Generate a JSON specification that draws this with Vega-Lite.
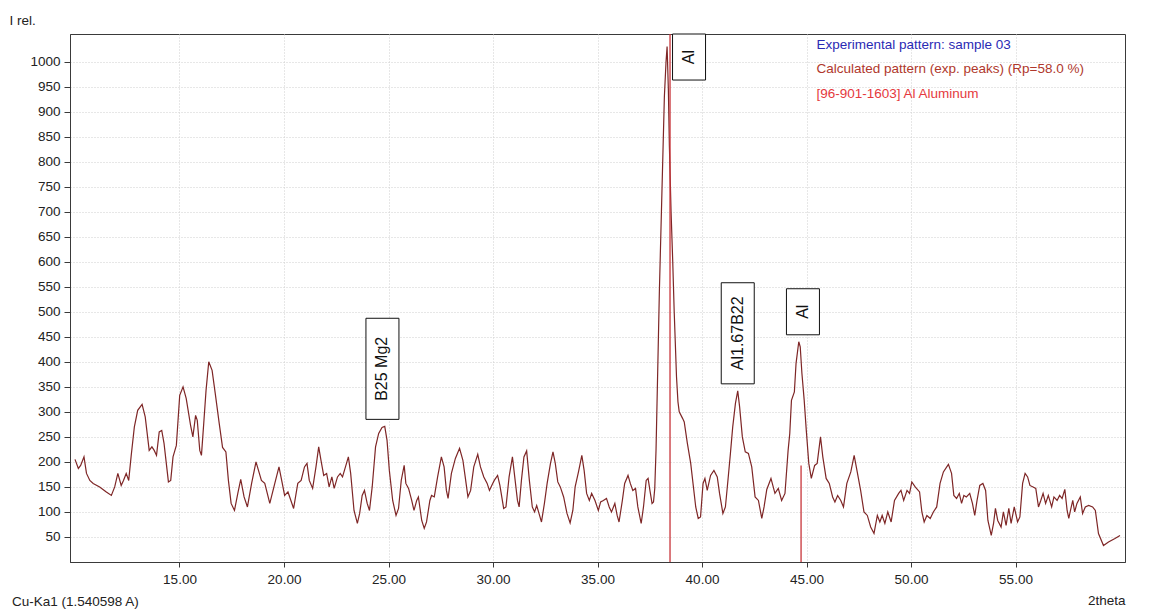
{
  "$schema": "https://vega.github.io/schema/vega-lite/v6.json",
  "width": 1055,
  "height": 528,
  "autosize": "none",
  "padding": {"left": 70, "top": 34, "right": 29, "bottom": 51},
  "background": "white",
  "title": {
    "text": "Cu-Ka1 (1.540598 A)",
    "orient": "bottom",
    "anchor": "start",
    "frame": "group",
    "dx": -58,
    "dy": -12,
    "offset": 0,
    "fontSize": 13.5,
    "fontWeight": "normal",
    "font": "Liberation Sans",
    "color": "#222222"
  },
  "config": {
    "view": {"stroke": "#3a3a3a", "strokeWidth": 1},
    "font": "Liberation Sans",
    "axis": {
      "domainColor": "#3a3a3a",
      "tickColor": "#3a3a3a",
      "labelColor": "#222222",
      "labelFontSize": 13.5,
      "labelFont": "Liberation Sans",
      "labelOverlap": false,
      "gridColor": "#cfcfcf",
      "gridDash": [1, 2],
      "gridWidth": 1,
      "titleFont": "Liberation Sans",
      "titleFontSize": 13.5,
      "titleFontWeight": "normal",
      "titleColor": "#222222"
    }
  },
  "datasets": {
    "pattern": [
      {"twotheta": 10.0, "intensity": 205}, {"twotheta": 10.16, "intensity": 187}, {"twotheta": 10.27, "intensity": 193},
      {"twotheta": 10.43, "intensity": 210}, {"twotheta": 10.55, "intensity": 177}, {"twotheta": 10.71, "intensity": 163},
      {"twotheta": 10.87, "intensity": 157}, {"twotheta": 11.18, "intensity": 150}, {"twotheta": 11.5, "intensity": 140},
      {"twotheta": 11.74, "intensity": 133}, {"twotheta": 11.9, "intensity": 150}, {"twotheta": 12.05, "intensity": 177},
      {"twotheta": 12.21, "intensity": 153}, {"twotheta": 12.32, "intensity": 163}, {"twotheta": 12.45, "intensity": 177},
      {"twotheta": 12.57, "intensity": 163}, {"twotheta": 12.69, "intensity": 213}, {"twotheta": 12.84, "intensity": 270},
      {"twotheta": 13.0, "intensity": 303}, {"twotheta": 13.21, "intensity": 315}, {"twotheta": 13.36, "intensity": 290},
      {"twotheta": 13.55, "intensity": 223}, {"twotheta": 13.68, "intensity": 230}, {"twotheta": 13.79, "intensity": 223},
      {"twotheta": 13.9, "intensity": 213}, {"twotheta": 14.03, "intensity": 260}, {"twotheta": 14.15, "intensity": 263},
      {"twotheta": 14.26, "intensity": 237}, {"twotheta": 14.47, "intensity": 160}, {"twotheta": 14.58, "intensity": 163},
      {"twotheta": 14.69, "intensity": 210}, {"twotheta": 14.85, "intensity": 233}, {"twotheta": 15.01, "intensity": 333},
      {"twotheta": 15.17, "intensity": 350}, {"twotheta": 15.32, "intensity": 327}, {"twotheta": 15.53, "intensity": 273},
      {"twotheta": 15.64, "intensity": 250}, {"twotheta": 15.77, "intensity": 293}, {"twotheta": 15.85, "intensity": 283},
      {"twotheta": 15.97, "intensity": 223}, {"twotheta": 16.05, "intensity": 213}, {"twotheta": 16.16, "intensity": 277},
      {"twotheta": 16.27, "intensity": 343}, {"twotheta": 16.4, "intensity": 400}, {"twotheta": 16.56, "intensity": 383},
      {"twotheta": 16.71, "intensity": 337}, {"twotheta": 16.9, "intensity": 277}, {"twotheta": 17.06, "intensity": 229},
      {"twotheta": 17.22, "intensity": 220}, {"twotheta": 17.34, "intensity": 163}, {"twotheta": 17.47, "intensity": 117},
      {"twotheta": 17.63, "intensity": 103}, {"twotheta": 17.79, "intensity": 137}, {"twotheta": 17.93, "intensity": 165},
      {"twotheta": 18.09, "intensity": 130}, {"twotheta": 18.25, "intensity": 110}, {"twotheta": 18.45, "intensity": 157},
      {"twotheta": 18.66, "intensity": 200}, {"twotheta": 18.92, "intensity": 163}, {"twotheta": 19.08, "intensity": 157},
      {"twotheta": 19.32, "intensity": 117}, {"twotheta": 19.56, "intensity": 157}, {"twotheta": 19.76, "intensity": 190},
      {"twotheta": 19.87, "intensity": 167}, {"twotheta": 20.03, "intensity": 133}, {"twotheta": 20.19, "intensity": 140},
      {"twotheta": 20.46, "intensity": 107}, {"twotheta": 20.66, "intensity": 157}, {"twotheta": 20.82, "intensity": 163},
      {"twotheta": 20.98, "intensity": 190}, {"twotheta": 21.1, "intensity": 197}, {"twotheta": 21.21, "intensity": 163},
      {"twotheta": 21.37, "intensity": 147}, {"twotheta": 21.53, "intensity": 190}, {"twotheta": 21.66, "intensity": 230},
      {"twotheta": 21.77, "intensity": 203}, {"twotheta": 21.9, "intensity": 173}, {"twotheta": 22.04, "intensity": 177},
      {"twotheta": 22.16, "intensity": 150}, {"twotheta": 22.29, "intensity": 170}, {"twotheta": 22.4, "intensity": 147},
      {"twotheta": 22.56, "intensity": 170}, {"twotheta": 22.69, "intensity": 177}, {"twotheta": 22.8, "intensity": 170},
      {"twotheta": 22.99, "intensity": 197}, {"twotheta": 23.08, "intensity": 210}, {"twotheta": 23.19, "intensity": 177},
      {"twotheta": 23.35, "intensity": 103}, {"twotheta": 23.51, "intensity": 77}, {"twotheta": 23.62, "intensity": 97},
      {"twotheta": 23.74, "intensity": 133}, {"twotheta": 23.85, "intensity": 143}, {"twotheta": 23.98, "intensity": 117},
      {"twotheta": 24.09, "intensity": 103}, {"twotheta": 24.22, "intensity": 150}, {"twotheta": 24.38, "intensity": 230},
      {"twotheta": 24.53, "intensity": 257}, {"twotheta": 24.69, "intensity": 269}, {"twotheta": 24.82, "intensity": 271},
      {"twotheta": 24.93, "intensity": 243}, {"twotheta": 25.04, "intensity": 183}, {"twotheta": 25.2, "intensity": 123},
      {"twotheta": 25.36, "intensity": 93}, {"twotheta": 25.48, "intensity": 107}, {"twotheta": 25.61, "intensity": 163},
      {"twotheta": 25.75, "intensity": 193}, {"twotheta": 25.83, "intensity": 157}, {"twotheta": 25.96, "intensity": 147},
      {"twotheta": 26.11, "intensity": 123}, {"twotheta": 26.22, "intensity": 103}, {"twotheta": 26.35, "intensity": 123},
      {"twotheta": 26.43, "intensity": 130}, {"twotheta": 26.59, "intensity": 83}, {"twotheta": 26.71, "intensity": 67},
      {"twotheta": 26.82, "intensity": 80}, {"twotheta": 26.98, "intensity": 123}, {"twotheta": 27.06, "intensity": 133},
      {"twotheta": 27.19, "intensity": 130}, {"twotheta": 27.35, "intensity": 170}, {"twotheta": 27.53, "intensity": 210},
      {"twotheta": 27.66, "intensity": 190}, {"twotheta": 27.77, "intensity": 143}, {"twotheta": 27.85, "intensity": 127},
      {"twotheta": 28.01, "intensity": 177}, {"twotheta": 28.2, "intensity": 207}, {"twotheta": 28.4, "intensity": 227},
      {"twotheta": 28.56, "intensity": 203}, {"twotheta": 28.67, "intensity": 170}, {"twotheta": 28.8, "intensity": 130},
      {"twotheta": 28.93, "intensity": 143}, {"twotheta": 29.08, "intensity": 190}, {"twotheta": 29.27, "intensity": 215},
      {"twotheta": 29.4, "intensity": 190}, {"twotheta": 29.56, "intensity": 170}, {"twotheta": 29.72, "intensity": 157},
      {"twotheta": 29.83, "intensity": 143}, {"twotheta": 29.94, "intensity": 153}, {"twotheta": 30.06, "intensity": 163},
      {"twotheta": 30.22, "intensity": 173}, {"twotheta": 30.33, "intensity": 153}, {"twotheta": 30.51, "intensity": 107},
      {"twotheta": 30.62, "intensity": 110}, {"twotheta": 30.77, "intensity": 170}, {"twotheta": 30.93, "intensity": 210},
      {"twotheta": 31.04, "intensity": 170}, {"twotheta": 31.17, "intensity": 123}, {"twotheta": 31.25, "intensity": 110},
      {"twotheta": 31.36, "intensity": 163}, {"twotheta": 31.48, "intensity": 210}, {"twotheta": 31.61, "intensity": 222},
      {"twotheta": 31.74, "intensity": 163}, {"twotheta": 31.88, "intensity": 110}, {"twotheta": 31.99, "intensity": 100},
      {"twotheta": 32.09, "intensity": 113}, {"twotheta": 32.2, "intensity": 97}, {"twotheta": 32.32, "intensity": 80},
      {"twotheta": 32.46, "intensity": 117}, {"twotheta": 32.59, "intensity": 157}, {"twotheta": 32.75, "intensity": 197},
      {"twotheta": 32.87, "intensity": 220}, {"twotheta": 32.98, "intensity": 197}, {"twotheta": 33.1, "intensity": 160},
      {"twotheta": 33.22, "intensity": 150}, {"twotheta": 33.38, "intensity": 130}, {"twotheta": 33.54, "intensity": 97},
      {"twotheta": 33.69, "intensity": 78}, {"twotheta": 33.82, "intensity": 103}, {"twotheta": 33.93, "intensity": 150},
      {"twotheta": 34.09, "intensity": 180}, {"twotheta": 34.25, "intensity": 213}, {"twotheta": 34.36, "intensity": 183},
      {"twotheta": 34.48, "intensity": 137}, {"twotheta": 34.61, "intensity": 123}, {"twotheta": 34.72, "intensity": 137},
      {"twotheta": 34.88, "intensity": 123}, {"twotheta": 35.04, "intensity": 103}, {"twotheta": 35.15, "intensity": 120},
      {"twotheta": 35.28, "intensity": 123}, {"twotheta": 35.43, "intensity": 127}, {"twotheta": 35.56, "intensity": 110},
      {"twotheta": 35.67, "intensity": 100}, {"twotheta": 35.83, "intensity": 117}, {"twotheta": 35.94, "intensity": 93},
      {"twotheta": 36.03, "intensity": 80}, {"twotheta": 36.19, "intensity": 123}, {"twotheta": 36.3, "intensity": 157},
      {"twotheta": 36.46, "intensity": 173}, {"twotheta": 36.57, "intensity": 157}, {"twotheta": 36.69, "intensity": 143},
      {"twotheta": 36.82, "intensity": 147}, {"twotheta": 36.93, "intensity": 110}, {"twotheta": 37.09, "intensity": 77},
      {"twotheta": 37.2, "intensity": 110}, {"twotheta": 37.33, "intensity": 163}, {"twotheta": 37.42, "intensity": 167},
      {"twotheta": 37.52, "intensity": 140}, {"twotheta": 37.61, "intensity": 117}, {"twotheta": 37.68, "intensity": 120},
      {"twotheta": 37.74, "intensity": 147}, {"twotheta": 37.8, "intensity": 223}, {"twotheta": 37.88, "intensity": 380},
      {"twotheta": 37.96, "intensity": 540}, {"twotheta": 38.04, "intensity": 670}, {"twotheta": 38.12, "intensity": 800},
      {"twotheta": 38.2, "intensity": 930}, {"twotheta": 38.28, "intensity": 1000}, {"twotheta": 38.33, "intensity": 1030},
      {"twotheta": 38.39, "intensity": 945}, {"twotheta": 38.44, "intensity": 830}, {"twotheta": 38.52, "intensity": 700},
      {"twotheta": 38.6, "intensity": 600}, {"twotheta": 38.67, "intensity": 500}, {"twotheta": 38.78, "intensity": 370},
      {"twotheta": 38.85, "intensity": 320}, {"twotheta": 38.91, "intensity": 300}, {"twotheta": 39.07, "intensity": 287},
      {"twotheta": 39.15, "intensity": 280}, {"twotheta": 39.3, "intensity": 237}, {"twotheta": 39.46, "intensity": 197},
      {"twotheta": 39.57, "intensity": 157}, {"twotheta": 39.7, "intensity": 110}, {"twotheta": 39.82, "intensity": 87},
      {"twotheta": 39.93, "intensity": 90}, {"twotheta": 40.05, "intensity": 157}, {"twotheta": 40.14, "intensity": 167},
      {"twotheta": 40.25, "intensity": 143}, {"twotheta": 40.41, "intensity": 173}, {"twotheta": 40.57, "intensity": 183},
      {"twotheta": 40.73, "intensity": 170}, {"twotheta": 40.84, "intensity": 137}, {"twotheta": 41.0, "intensity": 97},
      {"twotheta": 41.12, "intensity": 110}, {"twotheta": 41.25, "intensity": 167}, {"twotheta": 41.36, "intensity": 217},
      {"twotheta": 41.47, "intensity": 270}, {"twotheta": 41.6, "intensity": 317}, {"twotheta": 41.71, "intensity": 342},
      {"twotheta": 41.8, "intensity": 310}, {"twotheta": 41.93, "intensity": 250}, {"twotheta": 42.07, "intensity": 220},
      {"twotheta": 42.22, "intensity": 217}, {"twotheta": 42.38, "intensity": 190}, {"twotheta": 42.54, "intensity": 130},
      {"twotheta": 42.7, "intensity": 123}, {"twotheta": 42.86, "intensity": 87}, {"twotheta": 42.97, "intensity": 110},
      {"twotheta": 43.1, "intensity": 145}, {"twotheta": 43.3, "intensity": 167}, {"twotheta": 43.49, "intensity": 137},
      {"twotheta": 43.65, "intensity": 147}, {"twotheta": 43.81, "intensity": 123}, {"twotheta": 43.97, "intensity": 137},
      {"twotheta": 44.12, "intensity": 223}, {"twotheta": 44.2, "intensity": 257}, {"twotheta": 44.28, "intensity": 323},
      {"twotheta": 44.42, "intensity": 340}, {"twotheta": 44.5, "intensity": 397}, {"twotheta": 44.63, "intensity": 440},
      {"twotheta": 44.7, "intensity": 430}, {"twotheta": 44.78, "intensity": 377}, {"twotheta": 44.89, "intensity": 323},
      {"twotheta": 44.99, "intensity": 263}, {"twotheta": 45.11, "intensity": 197}, {"twotheta": 45.23, "intensity": 167},
      {"twotheta": 45.39, "intensity": 193}, {"twotheta": 45.51, "intensity": 197}, {"twotheta": 45.67, "intensity": 250},
      {"twotheta": 45.78, "intensity": 210}, {"twotheta": 45.94, "intensity": 167}, {"twotheta": 46.09, "intensity": 157},
      {"twotheta": 46.25, "intensity": 130}, {"twotheta": 46.36, "intensity": 120}, {"twotheta": 46.49, "intensity": 133},
      {"twotheta": 46.64, "intensity": 123}, {"twotheta": 46.77, "intensity": 110}, {"twotheta": 46.93, "intensity": 157},
      {"twotheta": 47.12, "intensity": 180}, {"twotheta": 47.28, "intensity": 213}, {"twotheta": 47.44, "intensity": 177},
      {"twotheta": 47.59, "intensity": 143}, {"twotheta": 47.75, "intensity": 100}, {"twotheta": 47.91, "intensity": 93},
      {"twotheta": 48.07, "intensity": 70}, {"twotheta": 48.23, "intensity": 57}, {"twotheta": 48.39, "intensity": 93},
      {"twotheta": 48.51, "intensity": 80}, {"twotheta": 48.62, "intensity": 93}, {"twotheta": 48.75, "intensity": 77},
      {"twotheta": 48.89, "intensity": 100}, {"twotheta": 49.05, "intensity": 80}, {"twotheta": 49.21, "intensity": 123},
      {"twotheta": 49.41, "intensity": 137}, {"twotheta": 49.52, "intensity": 143}, {"twotheta": 49.65, "intensity": 123},
      {"twotheta": 49.81, "intensity": 143}, {"twotheta": 49.93, "intensity": 137}, {"twotheta": 50.04, "intensity": 160},
      {"twotheta": 50.2, "intensity": 150}, {"twotheta": 50.41, "intensity": 140}, {"twotheta": 50.52, "intensity": 100},
      {"twotheta": 50.63, "intensity": 80}, {"twotheta": 50.76, "intensity": 93}, {"twotheta": 50.92, "intensity": 87},
      {"twotheta": 51.07, "intensity": 100}, {"twotheta": 51.23, "intensity": 110}, {"twotheta": 51.39, "intensity": 157},
      {"twotheta": 51.55, "intensity": 180}, {"twotheta": 51.79, "intensity": 195}, {"twotheta": 51.94, "intensity": 177},
      {"twotheta": 52.05, "intensity": 133}, {"twotheta": 52.18, "intensity": 127}, {"twotheta": 52.31, "intensity": 137},
      {"twotheta": 52.42, "intensity": 117}, {"twotheta": 52.53, "intensity": 133}, {"twotheta": 52.65, "intensity": 130},
      {"twotheta": 52.81, "intensity": 137}, {"twotheta": 52.94, "intensity": 117}, {"twotheta": 53.05, "intensity": 93},
      {"twotheta": 53.16, "intensity": 123}, {"twotheta": 53.29, "intensity": 153}, {"twotheta": 53.44, "intensity": 157},
      {"twotheta": 53.57, "intensity": 143}, {"twotheta": 53.68, "intensity": 83}, {"twotheta": 53.84, "intensity": 53},
      {"twotheta": 53.95, "intensity": 77}, {"twotheta": 54.04, "intensity": 107}, {"twotheta": 54.15, "intensity": 83},
      {"twotheta": 54.31, "intensity": 70}, {"twotheta": 54.42, "intensity": 100}, {"twotheta": 54.55, "intensity": 73},
      {"twotheta": 54.68, "intensity": 107}, {"twotheta": 54.79, "intensity": 77}, {"twotheta": 54.94, "intensity": 110},
      {"twotheta": 55.1, "intensity": 80}, {"twotheta": 55.21, "intensity": 90}, {"twotheta": 55.34, "intensity": 157},
      {"twotheta": 55.46, "intensity": 177}, {"twotheta": 55.58, "intensity": 170}, {"twotheta": 55.69, "intensity": 153},
      {"twotheta": 55.84, "intensity": 150}, {"twotheta": 55.97, "intensity": 147}, {"twotheta": 56.1, "intensity": 110},
      {"twotheta": 56.21, "intensity": 123}, {"twotheta": 56.32, "intensity": 137}, {"twotheta": 56.44, "intensity": 117},
      {"twotheta": 56.57, "intensity": 133}, {"twotheta": 56.73, "intensity": 110}, {"twotheta": 56.84, "intensity": 130},
      {"twotheta": 56.99, "intensity": 123}, {"twotheta": 57.11, "intensity": 133}, {"twotheta": 57.23, "intensity": 127},
      {"twotheta": 57.36, "intensity": 145}, {"twotheta": 57.47, "intensity": 103}, {"twotheta": 57.55, "intensity": 87},
      {"twotheta": 57.63, "intensity": 103}, {"twotheta": 57.74, "intensity": 123}, {"twotheta": 57.83, "intensity": 100},
      {"twotheta": 57.94, "intensity": 117}, {"twotheta": 58.1, "intensity": 130}, {"twotheta": 58.21, "intensity": 97},
      {"twotheta": 58.34, "intensity": 110}, {"twotheta": 58.5, "intensity": 113}, {"twotheta": 58.69, "intensity": 110},
      {"twotheta": 58.82, "intensity": 103}, {"twotheta": 58.97, "intensity": 57}, {"twotheta": 59.21, "intensity": 33},
      {"twotheta": 59.45, "intensity": 40}, {"twotheta": 59.76, "intensity": 47}, {"twotheta": 60.0, "intensity": 53}
    ],
    "sticks": [
      {"twotheta": 38.47, "intensity": 1100},
      {"twotheta": 44.74, "intensity": 193}
    ],
    "phases": [
      {"phase": "B25 Mg2", "labelAt": 24.71, "intensity": 271},
      {"phase": "Al", "labelAt": 39.38, "intensity": 1030},
      {"phase": "Al1.67B22", "labelAt": 41.71, "intensity": 342},
      {"phase": "Al", "labelAt": 44.83, "intensity": 440}
    ],
    "series": [
      {"series": "Experimental pattern: sample 03"},
      {"series": "Calculated pattern (exp. peaks) (Rp=58.0 %)"},
      {"series": "[96-901-1603] Al Aluminum"}
    ]
  },
  "encoding": {
    "x": {
      "field": "twotheta",
      "type": "quantitative",
      "scale": {"domain": [10, 60], "nice": false, "zero": false},
      "axis": {
        "values": [15, 20, 25, 30, 35, 40, 45, 50, 55],
        "tickCount": 40,
        "format": ".2f",
        "tickSize": 5,
        "labelPadding": 5,
        "labelOverlap": false,
        "title": "2theta",
        "titleX": 1055,
        "titleY": 42,
        "titleAlign": "right",
        "titleBaseline": "alphabetic",
        "titleAnchor": null
      }
    }
  },
  "layer": [
    {
      "data": {"name": "pattern"},
      "mark": {"type": "line", "color": "#7e2626", "strokeWidth": 1.2, "interpolate": "linear"},
      "encoding": {
        "y": {
          "field": "intensity",
          "type": "quantitative",
          "scale": {"domain": [0, 1055], "nice": false},
          "axis": {
            "values": [50, 100, 150, 200, 250, 300, 350, 400, 450, 500, 550, 600, 650, 700, 750, 800, 850, 900, 950, 1000],
            "tickCount": 40,
            "format": "d",
            "tickSize": 6,
            "labelPadding": 4,
            "labelOverlap": false,
            "labelFlush": false,
            "title": "I rel.",
            "titleAngle": 0,
            "titleX": -61,
            "titleY": -10,
            "titleAlign": "left",
            "titleBaseline": "alphabetic",
            "titleAnchor": null
          }
        }
      }
    },
    {
      "data": {"name": "sticks"},
      "mark": {"type": "rule", "color": "#c8343a", "strokeWidth": 1.3, "clip": true},
      "encoding": {
        "y": {"field": "intensity", "type": "quantitative"},
        "y2": {"datum": 0}
      }
    },
    {
      "data": {"name": "phases"},
      "transform": [
        {"calculate": "min(datum.intensity + 14, 963)", "as": "boxLow"},
        {"calculate": "datum.boxLow + (length(datum.phase) < 4 ? 92 : 202)", "as": "boxHigh"},
        {"calculate": "(datum.boxLow + datum.boxHigh) / 2", "as": "boxMid"}
      ],
      "layer": [
        {
          "mark": {"type": "bar", "width": 33, "fill": "white", "stroke": "#111111", "strokeWidth": 1},
          "encoding": {
            "x": {"field": "labelAt", "type": "quantitative"},
            "y": {"field": "boxLow", "type": "quantitative"},
            "y2": {"field": "boxHigh"}
          }
        },
        {
          "mark": {"type": "text", "angle": 270, "fontSize": 16, "font": "Liberation Sans", "color": "#111111", "align": "center", "baseline": "middle"},
          "encoding": {
            "x": {"field": "labelAt", "type": "quantitative"},
            "y": {"field": "boxMid", "type": "quantitative"},
            "text": {"field": "phase"}
          }
        }
      ]
    },
    {
      "data": {"name": "series"},
      "mark": {"type": "point", "opacity": 0},
      "encoding": {
        "color": {
          "field": "series",
          "type": "nominal",
          "scale": {
            "domain": ["Experimental pattern: sample 03", "Calculated pattern (exp. peaks) (Rp=58.0 %)", "[96-901-1603] Al Aluminum"],
            "range": ["#2a2ab4", "#b0382c", "#e5393d"]
          },
          "legend": {
            "orient": "none",
            "legendX": 733,
            "legendY": 4,
            "title": null,
            "symbolSize": 0,
            "symbolOpacity": 0,
            "symbolStrokeWidth": 0,
            "labelOffset": 0,
            "labelFontSize": 13.5,
            "labelFont": "Liberation Sans",
            "labelLimit": 400,
            "rowPadding": 9.5,
            "labelColor": {"expr": "datum.value === 'Experimental pattern: sample 03' ? '#2a2ab4' : (datum.value === 'Calculated pattern (exp. peaks) (Rp=58.0 %)' ? '#b0382c' : '#e5393d')"}
          }
        }
      }
    }
  ]
}
